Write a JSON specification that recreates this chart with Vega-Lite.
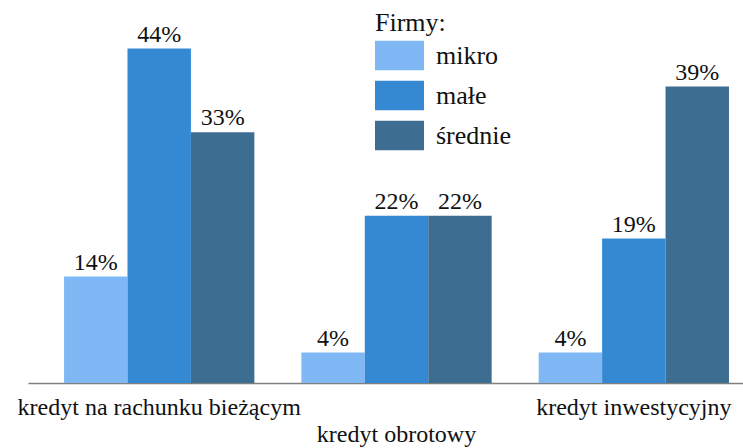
{
  "$schema": "https://vega.github.io/schema/vega-lite/v6.json",
  "width": 715,
  "height": 380,
  "autosize": "none",
  "padding": {"left": 28, "top": 3, "right": 0, "bottom": 65},
  "background": "white",
  "config": {
    "view": {"stroke": null},
    "font": "Liberation Serif, Times New Roman, DejaVu Serif, serif"
  },
  "data": {
    "values": [
      {"kredyt": "kredyt na rachunku bieżącym", "firmy": "mikro", "udzial": 0.14},
      {"kredyt": "kredyt na rachunku bieżącym", "firmy": "małe", "udzial": 0.44},
      {"kredyt": "kredyt na rachunku bieżącym", "firmy": "średnie", "udzial": 0.33},
      {"kredyt": "kredyt obrotowy", "firmy": "mikro", "udzial": 0.04},
      {"kredyt": "kredyt obrotowy", "firmy": "małe", "udzial": 0.22},
      {"kredyt": "kredyt obrotowy", "firmy": "średnie", "udzial": 0.22},
      {"kredyt": "kredyt inwestycyjny", "firmy": "mikro", "udzial": 0.04},
      {"kredyt": "kredyt inwestycyjny", "firmy": "małe", "udzial": 0.19},
      {"kredyt": "kredyt inwestycyjny", "firmy": "średnie", "udzial": 0.39}
    ]
  },
  "encoding": {
    "x": {
      "field": "kredyt",
      "type": "nominal",
      "sort": null,
      "scale": {"paddingInner": 0.198, "paddingOuter": 0.1055, "align": 0.72},
      "axis": {
        "title": null,
        "labelAngle": 0,
        "ticks": false,
        "labelFont": "Liberation Serif, Times New Roman, DejaVu Serif, serif",
        "labelFontSize": 24,
        "labelColor": "#111111",
        "labelBaseline": "top",
        "labelPadding": {"expr": "datum.value === 'kredyt obrotowy' ? 39 : 12"},
        "domainColor": "#7f7f7f",
        "domainWidth": 1.5,
        "labelLimit": 400
      }
    },
    "xOffset": {
      "field": "firmy",
      "type": "nominal",
      "sort": ["mikro", "małe", "średnie"],
      "scale": {"paddingInner": 0, "paddingOuter": 0}
    },
    "y": {
      "field": "udzial",
      "type": "quantitative",
      "scale": {"domain": [0, 0.5], "nice": false, "zero": true},
      "axis": null
    }
  },
  "layer": [
    {
      "mark": {"type": "bar"},
      "encoding": {
        "color": {
          "field": "firmy",
          "type": "nominal",
          "sort": ["mikro", "małe", "średnie"],
          "scale": {
            "domain": ["mikro", "małe", "średnie"],
            "range": ["#80b8f6", "#3589d3", "#3e6d92"]
          },
          "legend": {
            "title": "Firmy:",
            "orient": "none",
            "legendX": 347,
            "legendY": 7,
            "titleFont": "Liberation Serif, Times New Roman, DejaVu Serif, serif",
            "titleFontSize": 26,
            "titleFontWeight": "normal",
            "titleColor": "#111111",
            "titlePadding": -5,
            "labelFont": "Liberation Serif, Times New Roman, DejaVu Serif, serif",
            "labelFontSize": 26,
            "labelColor": "#111111",
            "labelOffset": 12,
            "symbolType": "M-1,-0.6H1V0.6H-1Z",
            "symbolSize": 2401,
            "symbolStrokeWidth": 0,
            "symbolOpacity": 1,
            "rowPadding": -5
          }
        }
      }
    },
    {
      "mark": {"type": "text", "baseline": "alphabetic", "dy": -7, "fontSize": 24, "font": "Liberation Serif, Times New Roman, DejaVu Serif, serif", "color": "#111111"},
      "encoding": {
        "text": {"field": "udzial", "type": "quantitative", "format": ".0%"}
      }
    }
  ]
}
